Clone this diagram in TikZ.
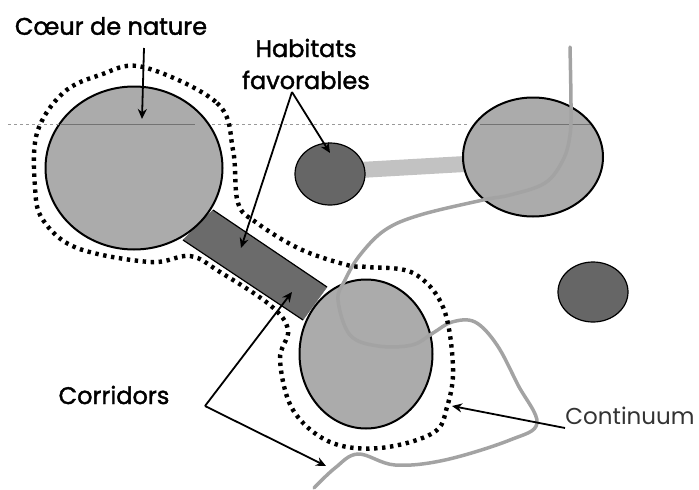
\documentclass[tikz,border=0pt]{standalone}
\usepackage{fontspec}
\setmainfont{Poppins}
\newfontfamily\lblfont[FakeBold=1.6]{Poppins}
\usetikzlibrary{arrows.meta,shapes.geometric}
\tikzset{
  zone/.style={ellipse,draw,line width=2pt,inner sep=0pt,fill=black!33},
  habitat/.style={ellipse,draw,line width=1.2pt,inner sep=0pt,fill=black!60},
  lbl/.style={align=center,inner sep=0pt,font=\fontsize{24}{32}\lblfont\selectfont},
  ptr/.style={line width=1.8pt,-{Stealth[length=10pt,width=9pt]}},
  contin/.style={line width=3.5pt,black!36,line cap=round},
  fence/.style={line width=4.4pt,dash pattern=on 3.4pt off 4.6pt,black}
}
\begin{document}
\begin{tikzpicture}[x=1pt,y=-1pt]
  \useasboundingbox (0,0) rectangle (699,490);
  % corridors
  \draw[black!58,fill=black!58] (183,240) -- (303,320) -- (327,287) -- (213,210) -- cycle;
  \draw[line width=1.2pt] (213,210) -- (327,287) (183,240) -- (303,320);
  \fill[black!24] (360,162) -- (465,156) -- (465,172) -- (360,178) -- cycle;
  % zones
  \node[zone,minimum width=177pt,minimum height=163pt] (coeur) at (134,168) {};
  \node[zone,minimum width=140pt,minimum height=119pt] (nord) at (533,157) {};
  \node[zone,minimum width=133pt,minimum height=149pt] (sud) at (366,354) {};
  \node[habitat,minimum width=70pt,minimum height=62pt] (hab1) at (330,174) {};
  \node[habitat,minimum width=70pt,minimum height=60pt] (hab2) at (593,292) {};
  % scan line
  \draw[black!40,dashed,line width=.5pt] (8,124) -- (60,124);
  \draw[black!55,line width=.5pt] (60,124) -- (195,124);
  \draw[black!40,dashed,line width=.5pt] (212,124) -- (468,124);
  \draw[black!55,line width=.5pt] (480,124) -- (590,124);
  % continuum
  \draw[contin] plot[smooth,tension=.6] coordinates {(570,47) (571,105) (570,135) (563,160)
    (545,183) (510,195) (483,200) (420,215) (385,230) (360,255) (345,280)
    (338,300) (350,335) (378,346) (412,345) (433,333) (452,322) (475,322)
    (497,345) (518,385) (537,423) (510,440) (445,460) (395,465) (358,454)
    (335,468) (314,488)};
  % outline
  \draw[fence] plot[smooth cycle,tension=.6] coordinates {(143,67) (217,103) (233,150) (238,203)
    (257,223) (300,249) (347,265) (367,267) (413,273) (443,307) (453,367)
    (447,407) (433,433) (380,448) (330,442) (293,410) (280,360) (288,330)
    (270,305) (220,272) (190,256) (150,262) (77,248) (43,220) (35,187) (37,133)
    (63,93) (100,75)};
  % labels
  \node[lbl] (lcoeur) at (111,26) {Cœur de nature};
  \node[lbl] (lhab) at (306,64) {Habitats\\favorables};
  \node[lbl] (lcor) at (114,395) {Corridors};
  \node[lbl,font=\fontsize{23}{26}\selectfont,text=black!80] (lcont) at (630,416) {Continuum};
  \coordinate (capex) at (205,406);
  \coordinate (happex) at (292,92);
  \coordinate (capt) at (142,119);
  \coordinate (cstart) at (144,48);
  \coordinate (hcor) at (241,248);
  \coordinate (hpt) at (330,153);
  \coordinate (cora) at (292,292);
  \coordinate (corb) at (326,466);
  \coordinate (contend) at (452,406);
  \coordinate (contstart) at (565,428);
  % pointers
  \draw[ptr] (cstart) -- (capt);
  \foreach \p in {hcor,hpt}{
    \draw[ptr] (happex) -- (\p);}
  \foreach \p in {cora,corb}{
    \draw[ptr] (capex) -- (\p);}
  \draw[ptr] (contstart) -- (contend);
\end{tikzpicture}
\end{document}
